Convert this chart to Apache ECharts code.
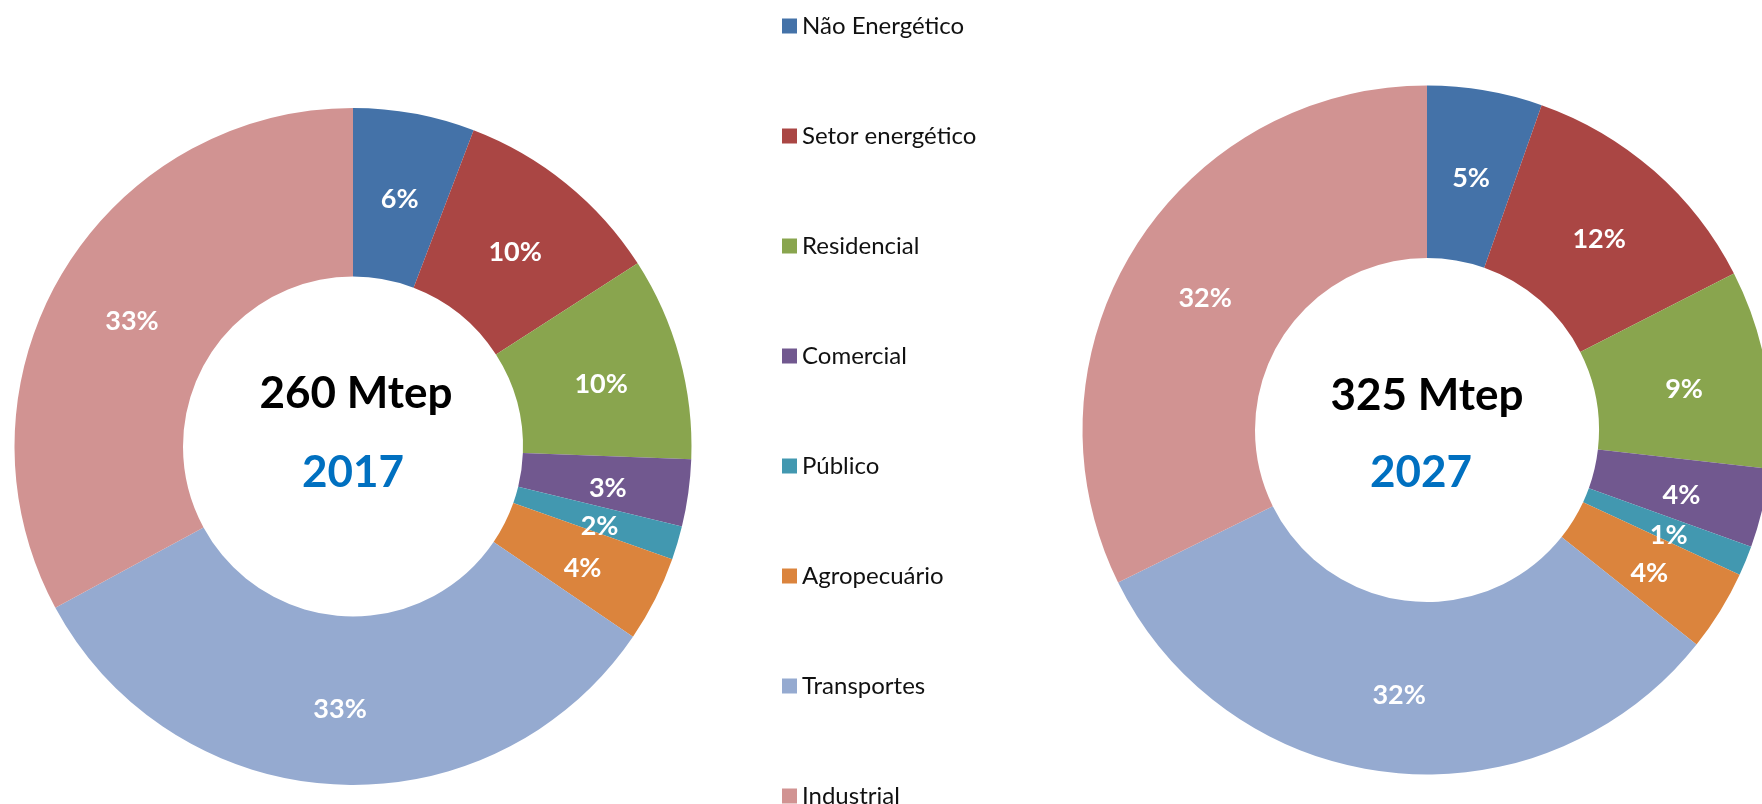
<!DOCTYPE html>
<html><head><meta charset="utf-8">
<script src="https://cdn.jsdelivr.net/npm/echarts@6/dist/echarts.min.js"></script>
<style>html,body{margin:0;padding:0;background:#fff}#c{width:1762px;height:804px}</style>
</head><body><div id="c"></div>
<script>
const categories = ['Não Energético','Setor energético','Residencial','Comercial','Público','Agropecuário','Transportes','Industrial'];
const colors = ['#4472A8','#AA4644','#89A54E','#71588F','#4298B0','#DB843D','#95AAD0','#D19392'];
const values2017 = [5.8, 10.1, 9.7, 3.2, 1.6, 4.1, 32.6, 32.9];
const values2027 = [5.4, 12.1, 9.3, 3.7, 1.4, 3.8, 32.0, 32.3];
const totals = ['260 Mtep','325 Mtep'];
const years = ['2017','2027'];

const FONT = 'Lato, "Open Sans", sans-serif';
const chart = echarts.init(document.getElementById('c'));
function mk(vals, center, radius){
  return {
    type:'pie', center:center, radius:radius, startAngle:90, clockwise:true,
    avoidLabelOverlap:false, animation:false,
    itemStyle:{borderWidth:0},
    label:{show:true, position:'inside', color:'#fff', fontFamily:FONT, fontWeight:'bold', fontSize:27,
      formatter:p=>Math.round(p.percent)+'%'},
    labelLayout:{dy:6},
    labelLine:{show:false},
    emphasis:{disabled:true},
    data: categories.map((c,i)=>({name:c, value:vals[i], itemStyle:{color:colors[i]}}))
  };
}
chart.setOption({
  backgroundColor:'#fff',
  legend:{orient:'vertical', left:777, top:9, height:1000, itemWidth:15, itemHeight:15, itemGap:86, icon:'rect',
    textStyle:{fontFamily:FONT, fontSize:24, color:'#111', lineHeight:24}, data:categories, selectedMode:false},
  series:[ mk(values2017,[353,446.5],[170,338.5]), mk(values2027,[1427,430],[172,344.5]) ],
  graphic:[
    {type:'text', style:{text:totals[0], x:356, y:394, align:'center', verticalAlign:'middle', font:'bold 44px '+FONT, fill:'#000'}},
    {type:'text', style:{text:years[0], x:353, y:473, align:'center', verticalAlign:'middle', font:'bold 44px '+FONT, fill:'#0070C0'}},
    {type:'text', style:{text:totals[1], x:1427, y:396, align:'center', verticalAlign:'middle', font:'bold 44px '+FONT, fill:'#000'}},
    {type:'text', style:{text:years[1], x:1421, y:473, align:'center', verticalAlign:'middle', font:'bold 44px '+FONT, fill:'#0070C0'}}
  ]
});
</script></body></html>
